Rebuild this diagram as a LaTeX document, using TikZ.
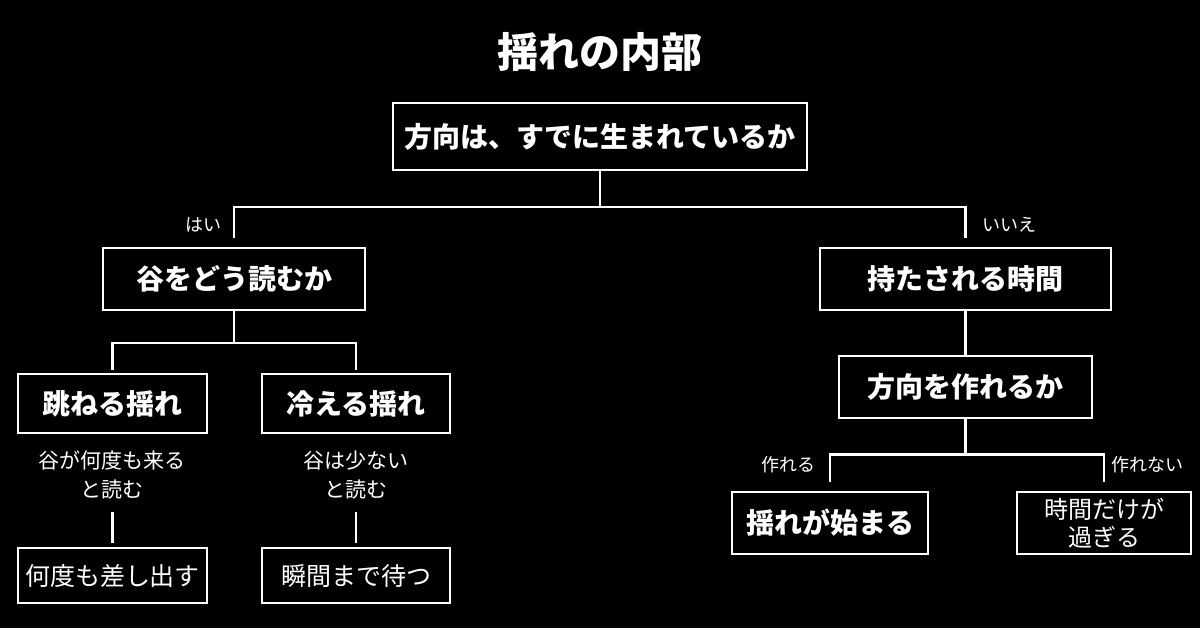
\documentclass[tikz,border=0pt]{standalone}
\usepackage{fontspec}
\setmainfont{Noto Sans CJK JP}
\usetikzlibrary{calc}
\tikzset{
  box/.style={draw=white, line width=2.5pt, text=white, inner sep=0pt, align=center},
  boldtxt/.style={font=\fontsize{28}{34}\selectfont\bfseries},
  regtxt/.style={font=\fontsize{25}{30}\selectfont},
  conn/.style={draw=white, line width=2.5pt},
  lbl/.style={text=white, inner sep=0pt, font=\fontsize{18}{21}\selectfont},
  sub/.style={text=white, inner sep=0pt, align=center, font=\fontsize{21}{29}\selectfont}
}
\begin{document}
\begin{tikzpicture}[x=1pt,y=-1pt]
\fill[black] (0,0) rectangle (1200,628);
\useasboundingbox (0,0) rectangle (1200,628);

\node[text=white, font=\fontsize{41}{48}\selectfont\bfseries] (title) at (600,52) {揺れの内部};

\node[box, boldtxt, minimum width=414pt, minimum height=67pt] (root) at (600,136.5) {方向は、すでに生まれているか};

\node[box, boldtxt, minimum width=262pt, minimum height=62pt] (A) at (234,279) {谷をどう読むか};
\node[box, boldtxt, minimum width=291pt, minimum height=62pt] (D) at (965.5,279) {持たされる時間};

\node[box, boldtxt, minimum width=189pt, minimum height=59pt] (B1) at (112.5,403.5) {跳ねる揺れ};
\node[box, boldtxt, minimum width=188pt, minimum height=59pt] (B2) at (356,403.5) {冷える揺れ};

\node[sub] (t1) at (112,475) {谷が何度も来る\\と読む};
\node[sub] (t2) at (356,475) {谷は少ない\\と読む};

\node[box, regtxt, minimum width=189pt, minimum height=55pt] (C1) at (112.5,575.5) {何度も差し出す};
\node[box, regtxt, minimum width=188pt, minimum height=55pt] (C2) at (356,575.5) {瞬間まで待つ};

\node[box, boldtxt, minimum width=253pt, minimum height=62pt] (E) at (965.5,387) {方向を作れるか};

\node[box, boldtxt, minimum width=196pt, minimum height=62pt] (F) at (830,523) {揺れが始まる};
\node[box, font=\fontsize{24}{28}\selectfont, minimum width=174pt, minimum height=62pt] (G) at (1104,523) {時間だけが\\過ぎる};

% labels
\node[lbl, anchor=east] (yes) at (222,225) {はい};
\node[lbl, anchor=west] (no) at (982,225) {いいえ};
\node[lbl, anchor=east] (can) at (816,465) {作れる};
\node[lbl, anchor=west] (cannot) at (1111,465) {作れない};

% connectors
\coordinate (j1) at ($(root.south)+(0,36)$);
\draw[conn] (root.south) -- (j1);
\draw[conn] ([yshift=9pt]A.north) |- (j1) -| ([yshift=9pt]D.north);

\coordinate (j2) at ($(A.south)+(0,32)$);
\draw[conn] (A.south) -- (j2);
\draw[conn] ([yshift=3pt]B1.north) |- (j2) -| ([yshift=3pt]B2.north);

\draw[conn] ([yshift=4pt]C1.north) -- ++(0,-31);
\draw[conn] ([yshift=4pt]C2.north) -- ++(0,-31);

\draw[conn] (D.south) -- (E.north);

\coordinate (j3) at ($(E.south)+(0,35)$);
\draw[conn] (E.south) -- (j3);
\draw[conn] ([yshift=9pt]F.north) |- (j3) -| ([yshift=9pt]G.north);
\end{tikzpicture}
\end{document}
